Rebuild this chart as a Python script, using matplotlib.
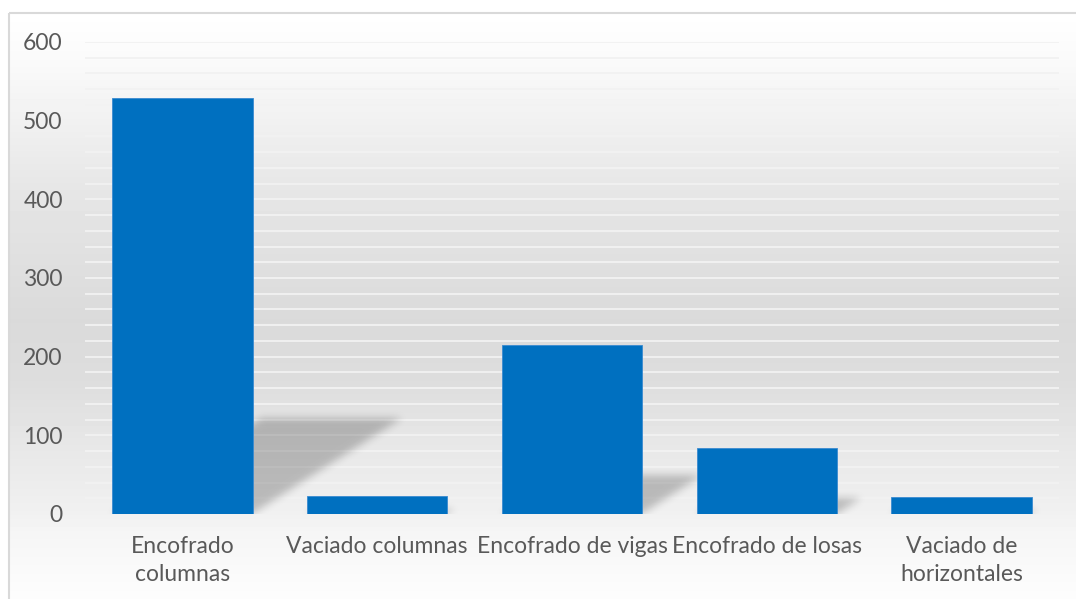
import numpy as np
import matplotlib
matplotlib.use("Agg")
import matplotlib.pyplot as plt
from matplotlib.colors import LinearSegmentedColormap
from matplotlib.patches import Rectangle
from matplotlib.ticker import MultipleLocator

# Data
categories = ["Encofrado\ncolumnas", "Vaciado columnas", "Encofrado de vigas",
              "Encofrado de losas", "Vaciado de\nhorizontales"]
values = [529, 23, 215, 84, 21]

plt.rcParams["font.family"] = ["Lato", "DejaVu Sans"]

W_PX, H_PX = 1076, 599
fig = plt.figure(figsize=(W_PX / 100, H_PX / 100), dpi=100)

# chart area background: soft vertical grey gradient inside a thin border
rows = np.arange(H_PX)
stops_y = [12, 60, 190, 320, 380, 450, 510, 530, 599]
stops_g = [255, 250, 230, 218, 221, 232, 240, 245, 253]
col = np.interp(rows, stops_y, stops_g) / 255.0
bg = np.repeat(col[:, None], W_PX, axis=1)
bg[:12, :] = 1.0
bg[:, :8] = 1.0
bg_ax = fig.add_axes([0, 0, 1, 1], zorder=-1)
bg_ax.imshow(bg, cmap="gray", vmin=0, vmax=1, aspect="auto",
             extent=(0, W_PX, H_PX, 0), interpolation="bilinear")
bg_ax.add_patch(Rectangle((8.5, 12.5), W_PX + 10, H_PX + 10, fill=False,
                          edgecolor="#d9d9d9", linewidth=1.5))
bg_ax.set_xlim(0, W_PX)
bg_ax.set_ylim(H_PX, 0)
bg_ax.axis("off")

# plot area in pixels
left, right, top, base = 85, 1059, 42, 514
ax = fig.add_axes([left / W_PX, 1 - base / H_PX,
                   (right - left) / W_PX, (base - top) / H_PX])
ax.set_facecolor("none")

x = np.arange(len(values))
ymax = 600
bar_w = 0.72
ax.set_xlim(-0.5, len(values) - 0.5)
ax.set_ylim(0, ymax)

# perspective shadows cast behind each bar
aw, ah = right - left, base - top
px_per_x = aw / len(values)
shadow = np.zeros((ah, aw))
cols = np.arange(aw) + 0.5
for xi, v in zip(x, values):
    hb = v / ymax * ah
    hs = 0.23 * hb
    dx = 0.36 * hb
    L = (xi + 0.5 - bar_w / 2) * px_per_x
    R = (xi + 0.5 + bar_w / 2) * px_per_x
    for r in range(int(np.ceil(hs))):
        off = dx * r / hs
        shadow[r] = np.maximum(shadow[r], ((cols >= L + off) & (cols <= R + off)).astype(float))

def blur(a, sigma):
    k = np.arange(-3 * sigma, 3 * sigma + 1)
    g = np.exp(-k ** 2 / (2 * sigma ** 2))
    g /= g.sum()
    a = np.apply_along_axis(lambda m: np.convolve(m, g, mode="same"), 1, a)
    a = np.apply_along_axis(lambda m: np.convolve(m, g, mode="same"), 0, a)
    return a

shadow = blur(shadow, 4)
shadow_cmap = LinearSegmentedColormap.from_list("sh", [(0, 0, 0, 0), (0, 0, 0, 0.22)])
ax.imshow(shadow, cmap=shadow_cmap, vmin=0, vmax=1, origin="lower", aspect="auto",
          extent=(-0.5, len(values) - 0.5, 0, ymax), zorder=1, interpolation="bilinear")

ax.bar(x, values, width=bar_w, color="#0070c0", edgecolor="#3a8ad0",
       linewidth=0.6, zorder=3)

# gridlines at every 20 units
ax.yaxis.set_major_locator(MultipleLocator(100))
ax.yaxis.set_minor_locator(MultipleLocator(20))
ax.grid(which="both", axis="y", color="#f2f2f2", linewidth=1.3, zorder=0.5)
ax.set_axisbelow(True)

ax.set_xticks(x)
ax.set_xticklabels(categories, linespacing=1.4)
ax.tick_params(axis="x", length=0, pad=16, labelsize=16.5, colors="#595959")
ax.tick_params(axis="y", which="both", length=0, pad=16, labelsize=16.5, colors="#595959")
for s in ax.spines.values():
    s.set_visible(False)

fig.savefig("out.png", dpi=100)
